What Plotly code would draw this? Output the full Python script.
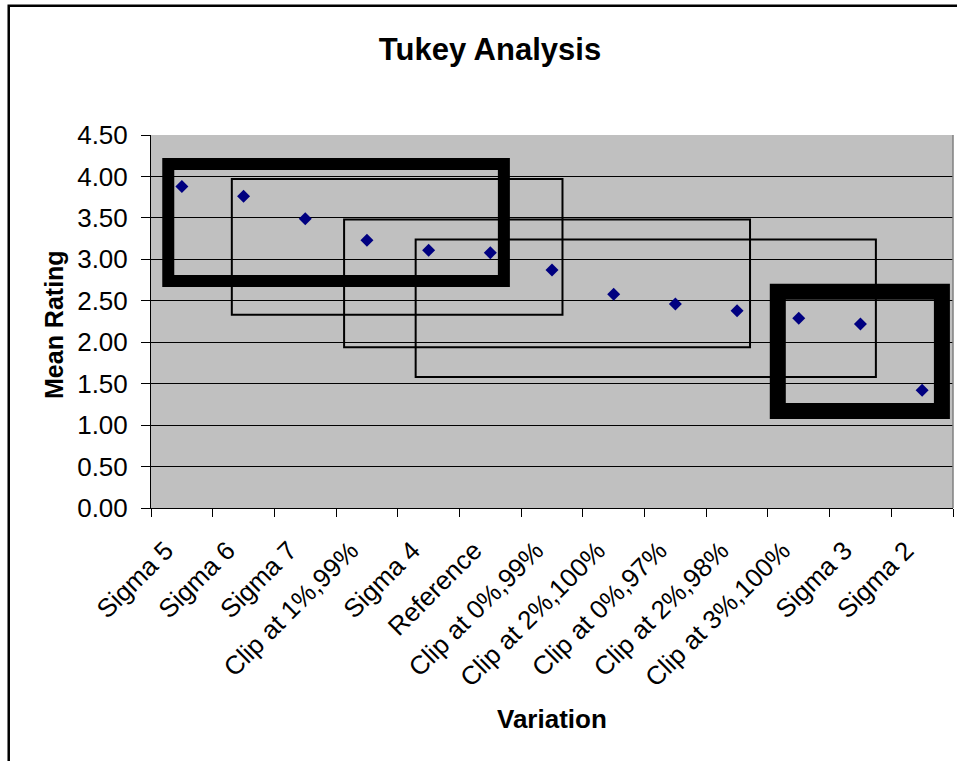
import plotly.graph_objects as go

# ---- data ----
categories = ["Sigma 5", "Sigma 6", "Sigma 7", "Clip at 1%,99%", "Sigma 4", "Reference",
              "Clip at 0%,99%", "Clip at 2%,100%", "Clip at 0%,97%", "Clip at 2%,98%",
              "Clip at 3%,100%", "Sigma 3", "Sigma 2"]
mean_rating = [3.88, 3.76, 3.49, 3.23, 3.11, 3.08, 2.87, 2.58, 2.46, 2.38, 2.29, 2.22, 1.42]
y_ticks = [0.0, 0.5, 1.0, 1.5, 2.0, 2.5, 3.0, 3.5, 4.0, 4.5]

# grouping boxes (in category-index / rating units)
box_x0 = [-0.22, 0.81, 2.63, 3.79, 9.66]
box_x1 = [5.22, 6.17, 9.21, 11.25, 12.32]
box_y0 = [2.74, 2.33, 1.94, 1.58, 1.17]
box_y1 = [4.15, 3.97, 3.48, 3.24, 2.61]
box_weight = [12, 2, 2, 2, 16]

FONT = "Liberation Sans, Arial, sans-serif"

fig = go.Figure()
fig.add_trace(go.Scatter(
    x=categories, y=mean_rating, mode="markers",
    marker=dict(symbol="diamond", size=10, color="#000080", line=dict(width=0)),
    showlegend=False, cliponaxis=False,
))

shapes = []
for x0, x1, y0, y1, w in zip(box_x0, box_x1, box_y0, box_y1, box_weight):
    shapes.append(dict(type="rect", xref="x", yref="y", x0=x0, x1=x1, y0=y0, y1=y1,
                       line=dict(color="black", width=w),
                       fillcolor="rgba(0,0,0,0)", layer="above"))
# chart area border (extends beyond picture on right / bottom)
shapes.append(dict(type="rect", xref="paper", yref="paper",
                   x0=-0.1774, x1=1.2, y0=-1.0, y1=1.3464,
                   line=dict(color="black", width=2.5), fillcolor="rgba(0,0,0,0)", layer="below"))
# right edge of plot area
shapes.append(dict(type="line", xref="paper", yref="paper", x0=1, x1=1, y0=0, y1=1,
                   line=dict(color="#808080", width=1.5)))

annotations = [
    dict(text="Variation", xref="paper", yref="paper", x=0.5, y=(508 - 719) / 373,
         xanchor="center", yanchor="middle", showarrow=False,
         font=dict(family=FONT, size=26, weight="bold", color="black")),
    dict(text="Mean Rating", xref="paper", yref="paper", x=(54 - 151) / 802, y=(508 - 325) / 373,
         xanchor="center", yanchor="middle", showarrow=False, textangle=-90,
         font=dict(family=FONT, size=25, weight="bold", color="black")),
]

fig.update_layout(
    width=957, height=761,
    margin=dict(l=151, r=4, t=135, b=253),
    paper_bgcolor="white",
    plot_bgcolor="#C0C0C0",
    font=dict(family=FONT, color="black", size=26),
    title=dict(text="Tukey Analysis", font=dict(family=FONT, size=31, weight="bold"),
               xref="container", x=490/957, xanchor="center",
               yref="container", y=1 - 49/761, yanchor="middle"),
    shapes=shapes,
    annotations=annotations,
    xaxis=dict(
        type="category", range=[-0.5, 12.5], tickangle=-45,
        tickson="boundaries", ticks="outside", ticklen=8, tickcolor="black", tickwidth=1,
        showgrid=False, showline=True, linecolor="black", linewidth=1,
        tickfont=dict(family=FONT, size=26),
        ticklabelshift=-16, ticklabelstandoff=16,
        zeroline=False,
    ),
    yaxis=dict(
        range=[0, 4.5], tickvals=y_ticks, tickformat=".2f",
        ticks="outside", ticklen=9, tickcolor="black", tickwidth=1,
        showgrid=True, gridcolor="black", gridwidth=1,
        showline=True, linecolor="black", linewidth=1,
        tickfont=dict(family=FONT, size=26), ticklabelstandoff=8,
        zeroline=False,
    ),
)

fig.write_html("out.html")
